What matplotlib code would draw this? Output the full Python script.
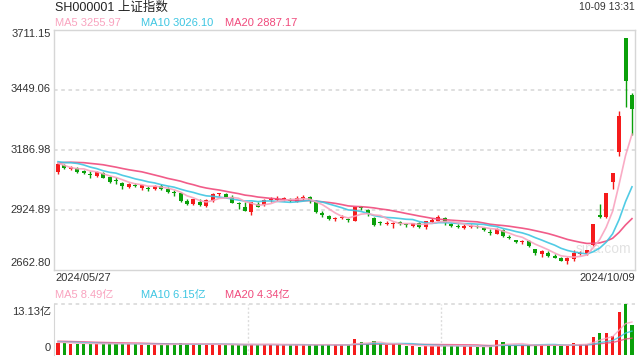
#K LINE - SH000001 daily candles with MA5/MA10/MA20 and volume

import matplotlib
matplotlib.use("Agg")
import matplotlib.pyplot as plt
import numpy as np
import pandas as pd

plt.rcParams['font.family'] = ['Liberation Sans', 'Noto Sans CJK SC', 'DejaVu Sans']

# 19 closes / volumes before the first shown day (needed for the moving averages)
pre_close = [3052.90, 3088.64, 3113.04, 3104.82, 3140.72, 3147.74, 3128.48, 3154.32, 3154.55, 3148.02,
             3145.77, 3119.90, 3122.40, 3154.03, 3171.15, 3157.97, 3158.54, 3116.39, 3088.87]
pre_vol = [3.7, 3.9, 3.8, 3.6, 4.2, 4.0, 3.6, 3.8, 3.7, 3.5, 3.4, 3.3, 3.2, 3.6, 3.8, 3.3, 3.4, 3.3, 3.2]

# shown days 2024/05/27 .. 2024/10/09
opens = [3093, 3122, 3105, 3108, 3094, 3083, 3073, 3088, 3068, 3052,
         3044, 3025, 3036, 3023, 3018, 3017, 3031, 3018, 3001, 2998,
         2965, 2950, 2958, 2942, 2966, 2995, 2995, 2983, 2953, 2940,
         2918, 2952, 2945, 2969, 2967, 2974, 2966, 2962, 2972, 2980,
         2965, 2913, 2897, 2885, 2889, 2886, 2879, 2935, 2925, 2890,
         2872, 2864, 2862, 2872, 2860, 2856, 2869, 2849, 2872, 2878,
         2891, 2862, 2857, 2848, 2852, 2853, 2847, 2828, 2822, 2837,
         2806, 2793, 2783, 2790, 2753, 2733, 2738, 2724, 2716, 2700,
         2711, 2734, 2731, 2771, 2901, 2893, 3049, 3180, 3674.40, 3427]
highs = [3129, 3126, 3119, 3113, 3100, 3094, 3095, 3092, 3073, 3068,
         3048, 3042, 3043, 3036, 3031, 3034, 3037, 3024, 3013, 3002,
         2973, 2974, 2974, 2974, 2998, 3001, 2999, 2989, 2960, 2958,
         2960, 2960, 2973, 2980, 2985, 2980, 2978, 2988, 2989, 2986,
         2968, 2920, 2905, 2896, 2901, 2892, 2940, 2942, 2930, 2893,
         2878, 2877, 2872, 2879, 2868, 2869, 2872, 2879, 2889, 2902,
         2895, 2868, 2864, 2862, 2864, 2859, 2851, 2840, 2846, 2840,
         2815, 2796, 2793, 2795, 2756, 2752, 2744, 2732, 2718, 2721,
         2752, 2744, 2752, 2864, 2952, 3001, 3088, 3359, 3674.40, 3437]
lows = [3083, 3106, 3100, 3088, 3084, 3066, 3068, 3063, 3043, 3040,
        3018, 3022, 3024, 3013, 3008, 3014, 3012, 3001, 2985, 2962,
        2945, 2946, 2944, 2940, 2960, 2985, 2978, 2957, 2930, 2920,
        2905, 2936, 2944, 2960, 2963, 2963, 2958, 2960, 2968, 2955,
        2913, 2895, 2880, 2875, 2885, 2872, 2876, 2926, 2898, 2857,
        2858, 2858, 2848, 2860, 2851, 2852, 2848, 2844, 2869, 2877,
        2859, 2850, 2847, 2841, 2847, 2846, 2832, 2815, 2818, 2808,
        2798, 2780, 2777, 2764, 2730, 2720, 2720, 2716, 2700, 2689,
        2700, 2728, 2729, 2767, 2889, 2889, 3017, 3160, 3374, 3253]
closes = [3124.04, 3109.57, 3111.02, 3091.68, 3086.81, 3078.49, 3091.20, 3065.40, 3048.79, 3051.28,
          3028.05, 3037.47, 3028.92, 3032.63, 3015.89, 3030.25, 3018.05, 3005.44, 2998.14, 2963.10,
          2950.00, 2972.53, 2945.85, 2967.40, 2994.73, 2997.01, 2982.38, 2957.57, 2949.93, 2922.45,
          2959.37, 2939.36, 2970.39, 2971.30, 2974.01, 2976.30, 2962.97, 2977.13, 2982.31, 2964.22,
          2915.37, 2901.95, 2886.74, 2890.90, 2891.85, 2879.30, 2938.75, 2932.39, 2905.34, 2860.70,
          2867.28, 2869.90, 2869.83, 2862.19, 2858.20, 2867.95, 2850.65, 2877.36, 2879.43, 2893.67,
          2866.66, 2856.58, 2848.77, 2854.37, 2855.52, 2848.73, 2837.43, 2823.11, 2842.21, 2811.04,
          2802.98, 2784.28, 2788.31, 2765.81, 2736.49, 2744.19, 2721.80, 2717.12, 2704.09, 2717.28,
          2736.02, 2736.81, 2748.92, 2863.13, 2896.31, 3000.95, 3087.53, 3336.50, 3489.78, 3365.09]
# volume in 亿
volumes = [3.10, 3.05, 2.95, 2.85, 2.95, 2.90, 2.80, 2.85, 3.00, 2.90,
           2.95, 2.75, 2.85, 2.70, 2.65, 2.60, 2.65, 2.75, 2.95, 3.00,
           2.80, 2.70, 2.75, 2.70, 2.85, 2.55, 2.60, 2.55, 2.50, 2.70,
           2.95, 2.55, 2.75, 2.70, 2.60, 2.45, 2.50, 2.60, 2.75, 2.55,
           2.85, 2.55, 2.70, 2.45, 2.50, 2.65, 4.05, 3.30, 2.95, 3.50,
           2.80, 2.55, 2.80, 2.75, 2.30, 2.25, 2.15, 2.40, 2.35, 2.40,
           2.35, 2.30, 2.35, 2.20, 2.25, 2.05, 2.05, 2.25, 3.80, 3.25,
           2.60, 2.55, 2.50, 2.60, 2.45, 2.60, 2.50, 2.45, 2.45, 2.60,
           3.20, 2.75, 2.80, 4.60, 5.70, 5.72, 4.85, 11.00, 13.13, 7.75]

first_date = "2024/05/27"
last_date = "2024/10/09"
stamp = "10-09 13:31"
price_top = 3711.15
price_bottom = 2662.80

RED = '#f51b1b'
GREEN = '#0aa00a'
C5 = '#f9a3bf'
C10 = '#3ec6e2'
C20 = '#f04a7c'
GRID = '#dcdcdc'
TXT = '#333333'

n = len(closes)
x = np.arange(n)
o = np.array(opens, dtype=float)
h = np.array(highs, dtype=float)
l = np.array(lows, dtype=float)
c = np.array(closes, dtype=float)
v = np.array(volumes, dtype=float)
up = c >= o
cols = np.where(up, RED, GREEN)

all_c = pd.Series(pre_close + closes)
all_v = pd.Series(pre_vol + volumes)
k = len(pre_close)
ma = {p: all_c.rolling(p).mean().values[k:] for p in (5, 10, 20)}
vma = {p: all_v.rolling(p).mean().values[k:] for p in (5, 10, 20)}

W, H = 640, 360
fig = plt.figure(figsize=(6.4, 3.6), dpi=100)


def fx(px):
    return px / W


def fy(py):
    return 1 - py / H


xl = (-0.62, 89.47)

#price panel
ax = fig.add_axes([fx(54), fy(270), fx(635) - fx(54), fy(30) - fy(270)])
ax.set_xlim(xl)
ax.set_ylim(price_bottom, price_top)
ticks = np.linspace(price_bottom, price_top, 5)
for t in ticks[1:-1]:
    ax.axhline(t, color=GRID, lw=1.3, ls=(0, (2, 2)), zorder=0)
ax.vlines(x, l, h, colors=cols, lw=1, zorder=2)
body = np.maximum(np.abs(c - o), 4.5)
ax.bar(x, body, bottom=np.minimum(o, c), width=0.62, color=cols, linewidth=0, zorder=3)
ax.plot(x, ma[20], color=C20, lw=1.2, alpha=0.9, zorder=4)
ax.plot(x, ma[10], color=C10, lw=1.2, alpha=0.9, zorder=4)
ax.plot(x, ma[5], color=C5, lw=1.2, alpha=0.9, zorder=4)
for s in ax.spines.values():
    s.set_color('#d6d6d6')
    s.set_linewidth(1)
ax.set_xticks([])
ax.set_yticks([])
ax.text(0.945, 0.088, "sina.com", transform=ax.transAxes, ha='center', va='center',
        fontsize=10, color='#e2e2e2', zorder=1)

#volume panel
av = fig.add_axes([fx(54), fy(355), fx(635) - fx(54), fy(304) - fy(355)])
av.set_xlim(xl)
av.set_ylim(0, v.max())
av.bar(x, v, width=0.48, color=cols, linewidth=0, zorder=2)
av.plot(x, vma[20], color=C20, lw=1, alpha=0.8, zorder=3)
av.plot(x, vma[10], color=C10, lw=1, alpha=0.8, zorder=3)
av.plot(x, vma[5], color=C5, lw=1, alpha=0.8, zorder=3)
for s in ('right', 'bottom', 'top'):
    av.spines[s].set_visible(False)
av.spines['left'].set_color('#d6d6d6')
av.axhline(v.max(), color=GRID, lw=1.3, ls=(0, (2, 2)), zorder=0, clip_on=False)
for frac in (1 / 3, 2 / 3):
    av.axvline(xl[0] + frac * (xl[1] - xl[0]), color=GRID, lw=1, ls=(0, (1.5, 1.5)), zorder=0)
av.set_xticks([])
av.set_yticks([])

#texts
fig.text(fx(55), fy(7.5), "SH000001 上证指数", fontsize=9, color='#222222', va='center')
fig.text(fx(635), fy(7.5), stamp, fontsize=7.5, color=TXT, va='center', ha='right')
fig.text(fx(55), fy(23.5), "MA5 %.2f" % ma[5][-1], fontsize=8, color=C5, va='center')
fig.text(fx(141), fy(23.5), "MA10 %.2f" % ma[10][-1], fontsize=8, color=C10, va='center')
fig.text(fx(225), fy(23.5), "MA20 %.2f" % ma[20][-1], fontsize=8, color=C20, va='center')

label_y = [263, 209.7, 149.7, 89.5, 34]
for t, py in zip(ticks, label_y):
    fig.text(fx(51), fy(py), "%.2f" % t, fontsize=8, color=TXT, va='center', ha='right')

fig.text(fx(55), fy(278), first_date, fontsize=8, color=TXT, va='center')
fig.text(fx(635), fy(278), last_date, fontsize=8, color=TXT, va='center', ha='right')

fig.text(fx(55), fy(295), "MA5 %.2f亿" % vma[5][-1], fontsize=8, color=C5, va='center')
fig.text(fx(141), fy(295), "MA10 %.2f亿" % vma[10][-1], fontsize=8, color=C10, va='center')
fig.text(fx(225), fy(295), "MA20 %.2f亿" % vma[20][-1], fontsize=8, color=C20, va='center')
fig.text(fx(51), fy(311.5), "%.2f亿" % v.max(), fontsize=8, color=TXT, va='center', ha='right')
fig.text(fx(51), fy(348), "0", fontsize=8, color=TXT, va='center', ha='right')

plt.savefig("out.png", dpi=100)
